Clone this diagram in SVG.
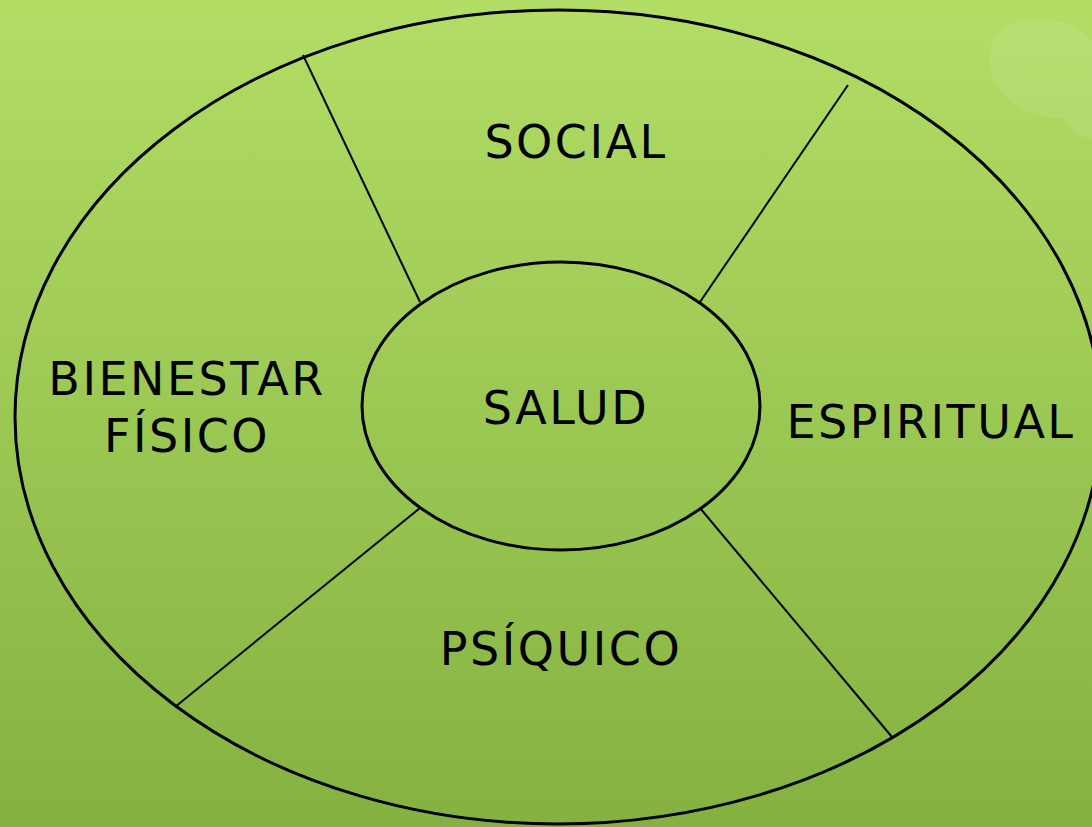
<svg xmlns="http://www.w3.org/2000/svg" width="1092" height="827" viewBox="0 0 1092 827">
<defs>
<linearGradient id="bg" x1="0" y1="0" x2="0" y2="1">
<stop offset="0" stop-color="#b2de66"/>
<stop offset="1" stop-color="#85b141"/>
</linearGradient>
</defs>
<style>
.e{fill:none;stroke:#000;stroke-width:3}
.l{stroke:#000;stroke-width:2}
.t{font-family:"DejaVu Sans",sans-serif;font-size:46px;fill:#000;text-anchor:middle;letter-spacing:2.5px}
</style>
<rect width="1092" height="827" fill="url(#bg)"/>
<g id="decor" fill="#ffffff" opacity="0.08">
<path d="M1000 30 C1030 10 1075 20 1092 40 L1092 110 C1070 125 1020 120 1000 90 C985 70 985 45 1000 30 Z"/>
<path d="M1060 100 C1080 80 1092 90 1092 110 L1092 140 C1075 135 1060 125 1060 100 Z"/>
</g>
<g id="outer"><ellipse class="e" cx="558" cy="417" rx="543" ry="407"/></g>
<g id="connectors">
<line class="l" x1="303" y1="55" x2="420" y2="302"/>
<line class="l" x1="848" y1="85" x2="700" y2="302"/>
<line class="l" x1="420" y1="508" x2="175" y2="707"/>
<line class="l" x1="700" y1="508" x2="892" y2="737"/>
</g>
<g id="salud"><ellipse class="e" cx="561" cy="406" rx="199" ry="144"/><text class="t" x="566" y="424">SALUD</text></g>
<g id="social"><text class="t" x="576" y="158">SOCIAL</text></g>
<g id="bienestar"><text class="t" x="187" y="395">BIENESTAR</text><text class="t" x="187" y="452">FÍSICO</text></g>
<g id="espiritual"><text class="t" x="931" y="438">ESPIRITUAL</text></g>
<g id="psiquico"><text class="t" x="561" y="665">PSÍQUICO</text></g>
</svg>
